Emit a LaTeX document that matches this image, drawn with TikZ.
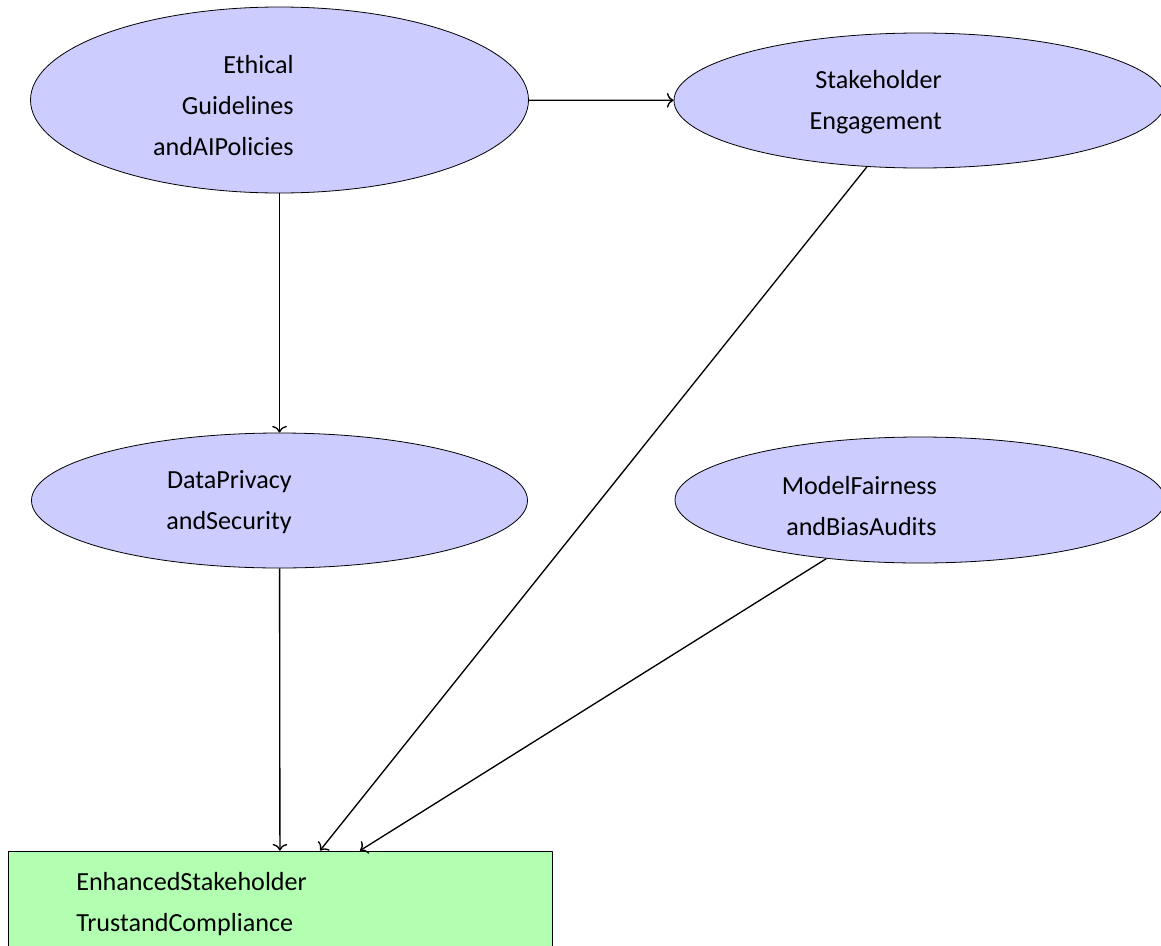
\documentclass[tikz,border=0pt]{standalone}
\usepackage{fontspec}
\setmainfont{Carlito}
\usetikzlibrary{%
  arrows.meta,%
  shapes.geometric,% wg. ellipse
  positioning%
}

\begin{document}
\begin{tikzpicture}[
    x=0.75pt,y=-0.75pt,
    >={To[length=5pt,width=11pt]},
    line join=round,
    factor/.style={ellipse,draw,fill=blue!20,line width=0.6pt,inner sep=0pt},
    outcome/.style={rectangle,draw,fill=green!30,line width=0.6pt,inner sep=0pt},
    caption/.style={align=right,inner sep=0pt,
        font=\fontsize{19.6}{30.8}\selectfont},
    link/.style={->,line width=1pt}
  ]

    \useasboundingbox (0,0) rectangle (1161,946);
    \clip (0,0) rectangle (1161,946);

    % the four factors
    \node [factor,minimum width=373.5pt,minimum height=139.5pt] (ethical)  at (279.5,100) {};
    \node [factor,minimum width=369pt,minimum height=101.25pt]  (stake)    at (920,100.5) {};
    \node [factor,minimum width=372pt,minimum height=101.25pt]  (privacy)  at (279.5,500.5) {};
    \node [factor,minimum width=367.5pt,minimum height=94.5pt]  (fairness) at (920,500) {};

    % the result
    \node [outcome,minimum width=408pt,minimum height=81.75pt] (trust) at (280,905.5) {};

    \node [caption,anchor=east] (ethicalText)  at (294,105.5) {Ethical\\Guidelines\\andAIPolicies};
    \node [caption,anchor=east] (stakeText)    at (942,102)   {Stakeholder\\Engagement};
    \node [caption,anchor=east] (privacyText)  at (292,502.5) {DataPrivacy\\andSecurity};
    \node [caption,anchor=east] (fairnessText) at (937,506)   {ModelFairness\\andBiasAudits};
    \node [caption,align=left,anchor=west] (trustText) at (76,904)
        {EnhancedStakeholder\\TrustandCompliance};

    \draw [link] (ethical) -- (stake);
    \draw [link] (ethical) -- (privacy);
    \draw [link] (privacy) -- (trust);
    \draw [link] (stake) -- ([xshift=30pt]trust.north);
    \draw [link] (fairness) -- ([xshift=60pt]trust.north);
\end{tikzpicture}
\end{document}
